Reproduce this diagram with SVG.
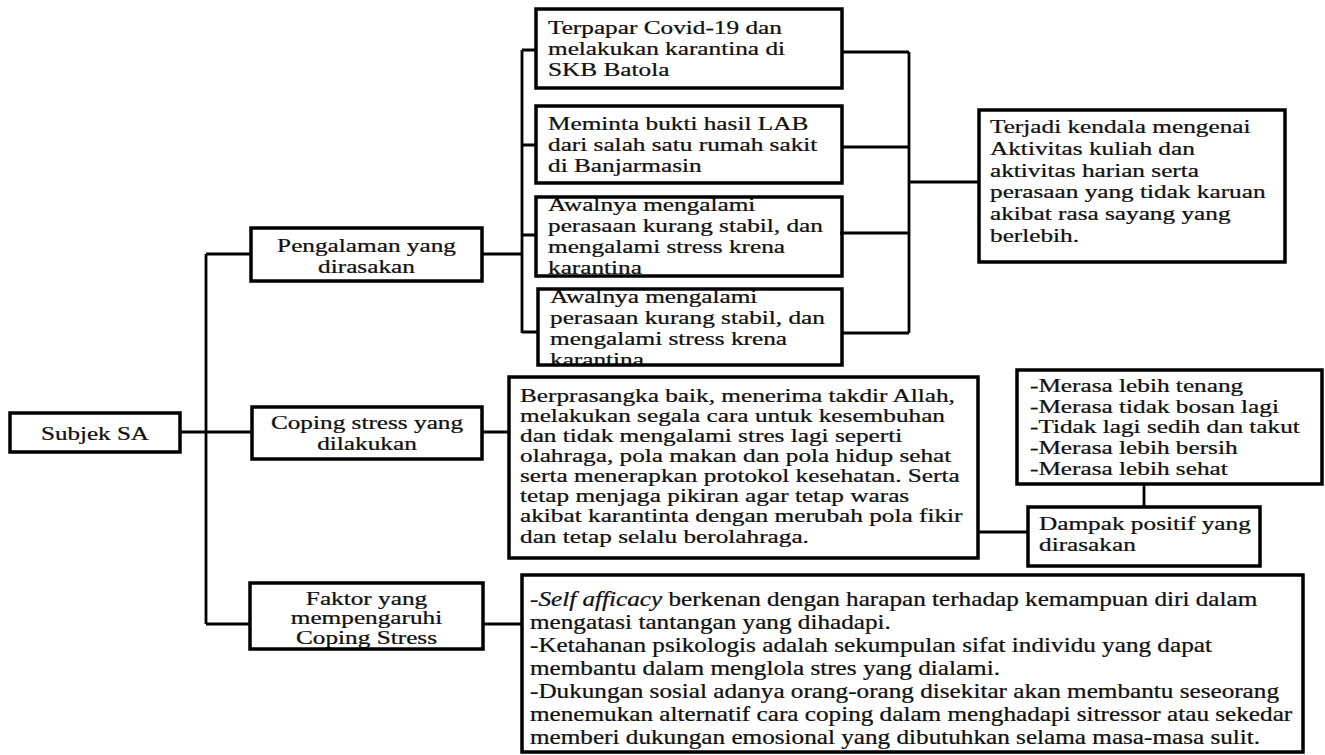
<svg xmlns="http://www.w3.org/2000/svg" width="1325" height="755" viewBox="0 0 1325 755">
<style>
.t{font-family:"Liberation Serif","Times New Roman",serif;font-size:19px;fill:#111;stroke:#111;stroke-width:0.25}
.c{text-anchor:middle}
.b{fill:none;stroke:#000;stroke-width:3.5}
.ln{fill:none;stroke:#000;stroke-width:2.8}
.bt{font-size:20px}
</style>
<rect width="1325" height="755" fill="#fff"/>
<g id="connectors">
<path class="ln" d="M206 254V624M206 254H251M180 432H252M206 624H250"/>
<path class="ln" d="M482 254H522M522 50V333M522 50H536M522 145H536M522 235H536M522 332H538"/>
<path class="ln" d="M842 52H909M842 147H909M840 233H909M842 333H909M909 52V333M909 182H979"/>
<path class="ln" d="M482 432H509M978 532H1028M1144 484V507M483 624H522"/>
</g>
<g id="subjek">
<text class="t c" transform="translate(95,0) scale(1.32,1)"><tspan x="0" y="440">Subjek SA</tspan></text>
<rect class="b" x="10" y="413" width="170" height="39"/>
</g>
<g id="pengalaman">
<text class="t c" transform="translate(366.5,0) scale(1.33,1)"><tspan x="0" y="252">Pengalaman yang</tspan><tspan x="0" y="273">dirasakan</tspan></text>
<rect class="b" x="251" y="228" width="231" height="53"/>
</g>
<g id="coping">
<text class="t c" transform="translate(367,0) scale(1.33,1)"><tspan x="0" y="429">Coping stress yang</tspan><tspan x="0" y="450">dilakukan</tspan></text>
<rect class="b" x="252" y="407" width="230" height="52"/>
</g>
<g id="faktor">
<text class="t c" transform="translate(366.5,0) scale(1.33,1)"><tspan x="0" y="605">Faktor yang</tspan><tspan x="0" y="624">mempengaruhi</tspan><tspan x="0" y="644">Coping Stress</tspan></text>
<rect class="b" x="250" y="583" width="233" height="66"/>
</g>
<g id="box1">
<text class="t" transform="translate(548,0) scale(1.33,1)"><tspan x="0" y="34">Terpapar Covid-19 dan</tspan><tspan x="0" y="55">melakukan karantina di</tspan><tspan x="0" y="76">SKB Batola</tspan></text>
<rect class="b" x="536" y="9" width="306" height="79"/>
</g>
<g id="box2">
<text class="t" transform="translate(548,0) scale(1.33,1)"><tspan x="0" y="130">Meminta bukti hasil LAB</tspan><tspan x="0" y="151">dari salah satu rumah sakit</tspan><tspan x="0" y="172">di Banjarmasin</tspan></text>
<rect class="b" x="536" y="106" width="306" height="77"/>
</g>
<g id="box3">
<text class="t" transform="translate(548,0) scale(1.33,1)"><tspan x="0" y="211">Awalnya mengalami</tspan><tspan x="0" y="232">perasaan kurang stabil, dan</tspan><tspan x="0" y="253">mengalami stress krena</tspan><tspan x="0" y="274">karantina</tspan></text>
<rect class="b" x="536" y="197" width="306" height="79"/>
</g>
<g id="box4">
<text class="t" transform="translate(550,0) scale(1.33,1)"><tspan x="0" y="303">Awalnya mengalami</tspan><tspan x="0" y="324">perasaan kurang stabil, dan</tspan><tspan x="0" y="345">mengalami stress krena</tspan><tspan x="0" y="366">karantina</tspan></text>
<rect class="b" x="538" y="289" width="304" height="76"/>
</g>
<g id="terjadi">
<text class="t" transform="translate(990,0) scale(1.33,1)"><tspan x="0" y="133">Terjadi kendala mengenai</tspan><tspan x="0" y="155">Aktivitas kuliah dan</tspan><tspan x="0" y="177">aktivitas harian serta</tspan><tspan x="0" y="198">perasaan yang tidak karuan</tspan><tspan x="0" y="220">akibat rasa sayang yang</tspan><tspan x="0" y="242">berlebih.</tspan></text>
<rect class="b" x="979" y="110" width="306" height="152"/>
</g>
<g id="berprasangka">
<text class="t" transform="translate(520,0) scale(1.33,1)"><tspan x="0" y="402">Berprasangka baik, menerima takdir Allah,</tspan><tspan x="0" y="422">melakukan segala cara untuk kesembuhan</tspan><tspan x="0" y="442">dan tidak mengalami stres lagi seperti</tspan><tspan x="0" y="462">olahraga, pola makan dan pola hidup sehat</tspan><tspan x="0" y="482">serta menerapkan protokol kesehatan. Serta</tspan><tspan x="0" y="502">tetap menjaga pikiran agar tetap waras</tspan><tspan x="0" y="522">akibat karantinta dengan merubah pola fikir</tspan><tspan x="0" y="543">dan tetap selalu berolahraga.</tspan></text>
<rect class="b" x="509" y="377" width="469" height="181"/>
</g>
<g id="merasa">
<text class="t" transform="translate(1030,0) scale(1.33,1)"><tspan x="0" y="392">-Merasa lebih tenang</tspan><tspan x="0" y="413">-Merasa tidak bosan lagi</tspan><tspan x="0" y="433">-Tidak lagi sedih dan takut</tspan><tspan x="0" y="454">-Merasa lebih bersih</tspan><tspan x="0" y="475">-Merasa lebih sehat</tspan></text>
<rect class="b" x="1017" y="370" width="305" height="114"/>
</g>
<g id="dampak">
<text class="t" transform="translate(1039,0) scale(1.33,1)"><tspan x="0" y="530">Dampak positif yang</tspan><tspan x="0" y="551">dirasakan</tspan></text>
<rect class="b" x="1028" y="507" width="232" height="59"/>
</g>
<g id="faktorDetail">
<text class="t bt" transform="translate(530,0) scale(1.26,1)"><tspan x="0" y="606">-<tspan font-style="italic">Self afficacy</tspan> berkenan dengan harapan terhadap kemampuan diri dalam</tspan><tspan x="0" y="629">mengatasi tantangan yang dihadapi.</tspan><tspan x="0" y="652">-Ketahanan psikologis adalah sekumpulan sifat individu yang dapat</tspan><tspan x="0" y="675">membantu dalam menglola stres yang dialami.</tspan><tspan x="0" y="698">-Dukungan sosial adanya orang-orang disekitar akan membantu seseorang</tspan><tspan x="0" y="721">menemukan alternatif cara coping dalam menghadapi sitressor atau sekedar</tspan><tspan x="0" y="744">memberi dukungan emosional yang dibutuhkan selama masa-masa sulit.</tspan></text>
<rect class="b" x="522" y="575" width="781" height="177"/>
</g>
</svg>
